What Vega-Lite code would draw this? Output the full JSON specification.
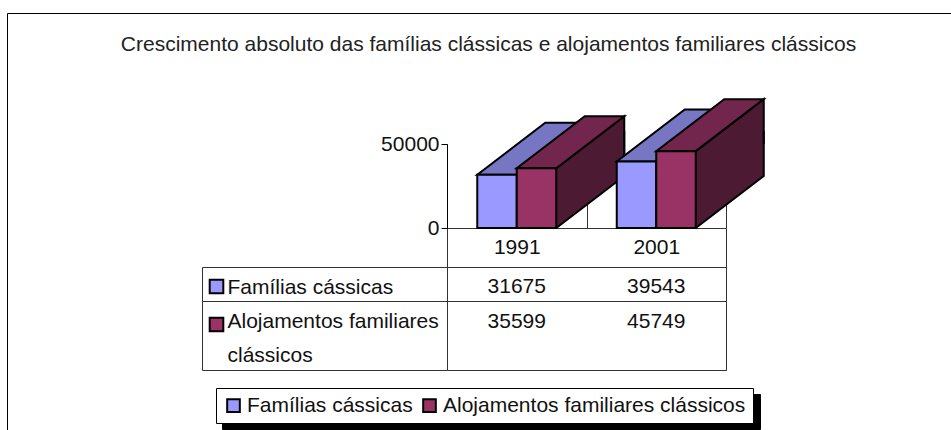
{
  "$schema": "https://vega.github.io/schema/vega-lite/v6.json",
  "autosize": {"type": "none"},
  "width": 279,
  "height": 142,
  "padding": {"left": 447, "top": 228, "right": 225, "bottom": 60},
  "background": "white",
  "config": {
    "font": "Liberation Sans",
    "view": {"stroke": "#333", "strokeWidth": 1},
    "axis": {"labelFont": "Liberation Sans", "labelFontSize": 21, "labelColor": "#111"},
    "legend": {"labelFont": "Liberation Sans", "labelFontSize": 21, "labelColor": "#111", "labelLimit": 500}
  },
  "title": {
    "text": "Crescimento absoluto das famílias clássicas e alojamentos familiares clássicos",
    "font": "Liberation Sans", "fontSize": 21, "fontWeight": "normal", "color": "#222",
    "anchor": "middle", "frame": "group", "dx": -98, "dy": 46
  },
  "data": {"values": [
    {"year": "1991", "series": "Famílias cássicas", "value": 31675},
    {"year": "1991", "series": "Alojamentos familiares clássicos", "value": 35599},
    {"year": "2001", "series": "Famílias cássicas", "value": 39543},
    {"year": "2001", "series": "Alojamentos familiares clássicos", "value": 45749}
  ]},
  "encoding": {
    "x": {
      "field": "year", "type": "nominal",
      "scale": {"paddingInner": 0, "paddingOuter": 0},
      "axis": {"orient": "top", "title": null, "domain": false, "ticks": false, "grid": true, "tickBand": "extent",
               "gridColor": "#333", "gridOpacity": 1, "gridWidth": 1, "labelPadding": -19, "labelBaseline": "middle", "labelAngle": 0}
    }
  },
  "layer": [
    {
      "transform": [{"filter": {"field": "series", "equal": "Alojamentos familiares clássicos"}}],
      "mark": {"type": "point", "shape": "M19.75,0L87.75,-52L87.75,-7L19.75,45Z", "size": 4, "filled": true, "opacity": 1},
      "encoding": {
        "xOffset": {"field": "series", "type": "nominal", "scale": {"domain": ["Famílias cássicas", "Alojamentos familiares clássicos"], "paddingInner": 0, "paddingOuter": 0.766}},
        "y": {"field": "value", "type": "quantitative", "scale": {"domain": [0, 50000], "range": [0, -84], "nice": false}, "axis": null},
        "color": {"field": "series", "type": "nominal",
          "scale": {"domain": ["Famílias cássicas", "Alojamentos familiares clássicos"], "range": ["#4d1a33", "#4d1a33"]},
          "legend": {"orient": "none", "legendX": -440, "legendY": -215, "padding": 700, "strokeColor": "black", "title": null, "symbolType": "square", "labelExpr": "''"}}
      }
    },
    {
      "transform": [{"filter": {"field": "series", "equal": "Alojamentos familiares clássicos"}}],
      "mark": {"type": "point", "shape": "M19.75,0L19.75,-45L87.75,-97L87.75,-52Z", "size": 4, "filled": true, "opacity": 1, "color": "#4d1a33"},
      "encoding": {
        "xOffset": {"field": "series", "type": "nominal"},
        "y": {"datum": 0, "type": "quantitative", "scale": {"domain": [0, 50000], "range": [0, -84], "nice": false}, "axis": null}
      }
    },
    {
      "transform": [{"filter": {"field": "series", "equal": "Alojamentos familiares clássicos"}}],
      "mark": {"type": "point", "shape": "M19.75,0L87.75,-52L87.75,-7", "size": 4, "filled": false, "opacity": 1, "color": "black", "strokeWidth": 2},
      "encoding": {
        "xOffset": {"field": "series", "type": "nominal"},
        "y": {"field": "value", "type": "quantitative", "scale": {"domain": [0, 50000], "range": [0, -84], "nice": false}, "axis": null}
      }
    },
    {
      "transform": [{"filter": {"field": "series", "equal": "Alojamentos familiares clássicos"}}],
      "mark": {"type": "point", "shape": "M19.75,0L87.75,-52L87.75,-97", "size": 4, "filled": false, "opacity": 1, "color": "black", "strokeWidth": 2},
      "encoding": {
        "xOffset": {"field": "series", "type": "nominal"},
        "y": {"datum": 0, "type": "quantitative", "scale": {"domain": [0, 50000], "range": [0, -84], "nice": false}, "axis": null}
      }
    },
    {
      "mark": {"type": "point", "shape": "M-19.75,0L19.75,0L87.75,-52L48.25,-52Z", "size": 4, "filled": true, "opacity": 1, "stroke": "black", "strokeWidth": 2},
      "encoding": {
        "xOffset": {"field": "series", "type": "nominal"},
        "y": {"field": "value", "type": "quantitative", "scale": {"domain": [0, 50000], "range": [0, -84], "nice": false},
              "axis": {"orient": "left", "values": [0, 50000], "format": "d", "title": null, "grid": false, "domainColor": "black", "tickColor": "black", "tickSize": 6, "labelPadding": 2}},
        "color": {"field": "series", "type": "nominal",
          "scale": {"domain": ["Famílias cássicas", "Alojamentos familiares clássicos"], "range": ["#7676c2", "#73264d"]},
          "legend": {"orient": "none", "legendX": -225, "legendY": 166, "direction": "horizontal", "title": null, "symbolType": "square", "symbolSize": 441,
                     "symbolStrokeWidth": 0, "symbolOpacity": 0, "labelExpr": "''", "labelOffset": 0,
                     "fillColor": "black", "strokeColor": "black", "padding": 7, "columnPadding": 482, "zindex": 1}}
      }
    },
    {
      "transform": [{"filter": {"field": "year", "equal": "1991"}}],
      "mark": {"type": "bar", "stroke": "black", "strokeWidth": 2},
      "encoding": {
        "xOffset": {"field": "series", "type": "nominal"},
        "y": {"field": "value", "type": "quantitative", "scale": {"domain": [0, 50000], "range": [0, -84], "nice": false}, "axis": null},
        "color": {"field": "series", "type": "nominal",
          "scale": {"domain": ["Famílias cássicas", "Alojamentos familiares clássicos"], "range": ["#9999ff", "#993366"]},
          "legend": {"orient": "none", "legendX": -231, "legendY": 160, "direction": "horizontal", "title": null, "symbolType": "square", "symbolSize": 160,
                     "symbolStrokeColor": "black", "symbolStrokeWidth": 2, "fillColor": "white", "strokeColor": "black", "padding": 7, "columnPadding": 6, "labelOffset": 3, "zindex": 2}}
      }
    },
    {
      "transform": [{"filter": {"field": "year", "equal": "2001"}}],
      "mark": {"type": "bar", "stroke": "black", "strokeWidth": 2},
      "encoding": {
        "xOffset": {"field": "series", "type": "nominal"},
        "y": {"field": "value", "type": "quantitative", "scale": {"domain": [0, 50000], "range": [0, -84], "nice": false}, "axis": null},
        "color": {"field": "series", "type": "nominal",
          "scale": {"domain": ["Famílias cássicas", "Alojamentos familiares clássicos"], "range": ["#9999ff", "#993366"]},
          "legend": {"orient": "none", "legendX": -241, "legendY": 48, "direction": "vertical", "title": null, "symbolType": "square", "symbolSize": 185,
                     "symbolStrokeColor": "black", "symbolStrokeWidth": 2, "labelExpr": "''", "padding": 0, "rowPadding": 15}}
      }
    },
    {
      "transform": [{"filter": {"field": "year", "equal": "1991"}}],
      "mark": {"type": "text", "fontSize": 21, "color": "#111", "baseline": "middle", "dy": 3},
      "encoding": {
        "y": {"field": "series", "type": "nominal",
          "scale": {"domain": ["Famílias cássicas", "Alojamentos familiares clássicos", "wrap"], "range": [39, 142], "paddingInner": 0, "paddingOuter": 0},
          "axis": {"orient": "left", "offset": 245, "values": ["Famílias cássicas", "wrap"], "title": null, "labels": false,
                   "domain": true, "domainColor": "#333", "domainWidth": 1, "ticks": true, "tickSize": -245, "tickBand": "extent", "tickColor": "#333", "tickWidth": 1,
                   "grid": true, "gridColor": "#333", "gridOpacity": 1, "gridWidth": 1}},
        "text": {"field": "value", "type": "quantitative", "format": "d"}
      }
    },
    {
      "transform": [{"filter": {"field": "year", "equal": "2001"}}],
      "mark": {"type": "text", "fontSize": 21, "color": "#111", "baseline": "middle", "dy": 3},
      "encoding": {
        "y": {"field": "series", "type": "nominal",
          "scale": {"domain": ["Famílias cássicas", "Alojamentos familiares clássicos", "wrap"], "range": [39, 142], "paddingInner": 0, "paddingOuter": 0},
          "axis": {"orient": "left", "offset": 245, "title": null, "domain": false, "ticks": false, "grid": false,
                   "labelAlign": "left", "labelPadding": -25, "labelOffset": 3, "labelLimit": 400,
                   "labelExpr": "datum.value === 'Alojamentos familiares clássicos' ? 'Alojamentos familiares' : datum.value === 'wrap' ? 'clássicos' : datum.value"}},
        "text": {"field": "value", "type": "quantitative", "format": "d"}
      }
    }
  ],
  "resolve": {
    "scale": {"y": "independent", "color": "independent"},
    "axis": {"y": "independent"},
    "legend": {"color": "independent"}
  }
}
